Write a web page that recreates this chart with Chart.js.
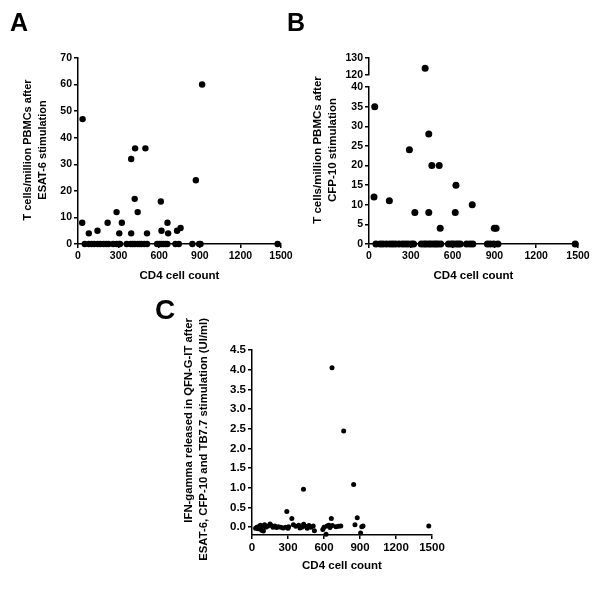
<!DOCTYPE html>
<html><head><meta charset="utf-8">
<script src="https://cdn.jsdelivr.net/npm/chart.js@4.4.1/dist/chart.umd.min.js"></script>
<style>
html,body{margin:0;padding:0;background:#fff;}
#wrap{position:relative;width:600px;height:594px;background:#fff;overflow:hidden;font-family:'Liberation Sans',Arial,sans-serif;}
canvas{position:absolute;}
.lbl{position:absolute;font-weight:bold;color:#000;font-family:'Liberation Sans',Arial,sans-serif;}
</style></head><body>
<div id="wrap">
<canvas id="cA" width="300" height="300" style="left:0;top:0"></canvas>
<canvas id="cB" width="300" height="300" style="left:300px;top:0"></canvas>
<canvas id="cC" width="300" height="300" style="left:150px;top:290px"></canvas>
<div class="lbl" style="left:10px;top:10px;font-size:25px;line-height:25px">A</div>
<div class="lbl" style="left:287px;top:10px;font-size:25px;line-height:25px">B</div>
<div class="lbl" style="left:155px;top:296px;font-size:28px;line-height:28px">C</div>
</div>
<script>
// ---------- data ----------
const cd4Ticks = [0, 300, 600, 900, 1200, 1500];

// Panel A: ESAT-6
const esatCD4 = [31, 34, 80, 144, 219, 285, 305, 324, 393, 393, 422, 419, 441, 498, 510, 612, 617, 661, 666, 732, 758, 871, 917,
  50, 80, 100, 120, 145, 165, 190, 210, 225, 260, 285, 300, 310, 360, 390, 405, 420, 440, 455, 470, 490, 510, 585, 600, 615, 630, 645, 660, 720, 745, 845, 895, 905, 1475];
const esatVal = [8, 47, 4, 5, 8, 12, 4, 8, 32, 4, 36, 17, 12, 36, 4, 16, 5, 8, 4, 5, 6, 24, 60,
  0, 0, 0, 0, 0, 0, 0, 0, 0, 0, 0, 0, 0, 0, 0, 0, 0, 0, 0, 0, 0, 0, 0, 0, 0, 0, 0, 0, 0, 0, 0, 0, 0, 0];
const esatTicks = [0, 10, 20, 30, 40, 50, 60, 70];

// Panel B: CFP-10 (broken axis)
const cfpCD4 = [36, 41, 146, 290, 329, 403, 429, 429, 451, 504, 511, 619, 624, 741, 899, 912,
  50, 80, 100, 125, 150, 170, 190, 215, 240, 260, 280, 305, 320, 375, 395, 410, 430, 445, 465, 480, 495, 515, 570, 590, 605, 625, 640, 655, 700, 725, 745, 850, 870, 895, 925, 1480];
const cfpVal = [12, 35, 11, 24, 8, 124, 28, 8, 20, 20, 4, 8, 15, 10, 4, 4,
  0, 0, 0, 0, 0, 0, 0, 0, 0, 0, 0, 0, 0, 0, 0, 0, 0, 0, 0, 0, 0, 0, 0, 0, 0, 0, 0, 0, 0, 0, 0, 0, 0, 0, 0, 0];
const cfpLowerTicks = [0, 5, 10, 15, 20, 25, 30, 35, 40];
const cfpUpperTicks = [120, 130];

// Panel C: QFN-G-IT
const qfnCD4 = [290, 332, 429, 617, 661, 667, 764, 847, 858, 877, 905, 915, 925, 1473,
  30, 40, 50, 60, 70, 80, 90, 95, 105, 115, 130, 150, 160, 175, 190, 205, 220, 240, 260, 280, 300, 305,
  345, 365, 390, 400, 415, 430, 445, 460, 475, 490, 510, 520, 590, 600, 625, 640, 650, 670, 700, 720, 740];
const qfnVal = [0.40, 0.22, 0.96, -0.18, 0.22, 4.05, 2.44, 1.08, 0.06, 0.24, -0.15, 0.01, 0.03, 0.03,
  -0.03, 0.00, -0.04, 0.02, 0.05, -0.08, 0.03, -0.10, 0.06, 0.00, 0.02, 0.08, 0.04, 0.00, 0.03, -0.01, 0.01, 0.00, -0.02, 0.00, -0.03, 0.01,
  0.06, 0.02, 0.05, -0.02, 0.00, 0.07, 0.02, -0.03, 0.04, 0.00, 0.03, -0.09, -0.06, 0.00, 0.03, 0.05, -0.01, 0.04, 0.01, 0.02, 0.03];
const qfnTicks = [0, 0.5, 1.0, 1.5, 2.0, 2.5, 3.0, 3.5, 4.0, 4.5];

// ---------- helpers ----------
const FONT = "'Liberation Sans', Arial, sans-serif";
Chart.defaults.font.family = FONT;
Chart.defaults.font.weight = 'bold';
Chart.defaults.color = '#000';

function zip(xs, ys) { return xs.map((x, i) => ({x: x, y: ys[i]})); }

const yTitlePlugin = {
  id: 'yTitle',
  afterDraw(chart, args, o) {
    const ctx = chart.ctx;
    ctx.save();
    ctx.font = 'bold ' + o.size + 'px ' + FONT;
    ctx.fillStyle = '#000';
    ctx.textBaseline = 'middle';
    ctx.textAlign = o.align;
    o.lines.forEach((line, i) => {
      ctx.save();
      ctx.translate(o.xs[i], o.y);
      ctx.rotate(-Math.PI / 2);
      ctx.fillText(line, 0, 0);
      ctx.restore();
    });
    ctx.restore();
  }
};

function xAxis(tickSize, height) {
  return {
    type: 'linear', position: 'bottom', min: 0, max: 1500,
    afterBuildTicks: s => { s.ticks = cd4Ticks.map(v => ({value: v})); },
    border: {display: true, color: '#000', width: 1.5},
    grid: {drawOnChartArea: false, drawTicks: true, tickLength: 4, color: '#000', lineWidth: 1.5, tickWidth: 1.5},
    ticks: {font: {size: tickSize, weight: 'bold'}, color: '#000', padding: 2, maxRotation: 0, autoSkip: false, callback: v => String(v)},
    title: {display: true, text: 'CD4 cell count', font: {size: 11.5, weight: 'bold'}, color: '#000', padding: {top: 0, bottom: 17}},
    afterFit: s => { s.height = height; }
  };
}

function yAxis(min, max, ticks, width, tickSize, fmt, extra) {
  return Object.assign({
    type: 'linear', position: 'left', min: min, max: max,
    afterBuildTicks: s => { s.ticks = ticks.map(v => ({value: v})); },
    border: {display: true, color: '#000', width: 1.5},
    grid: {drawOnChartArea: false, drawTicks: true, tickLength: 4, color: '#000', lineWidth: 1.5, tickWidth: 1.5},
    ticks: {font: {size: tickSize, weight: 'bold'}, color: '#000', padding: 2, autoSkip: false, callback: fmt},
    afterFit: s => { s.width = width; }
  }, extra || {});
}

function baseOptions(padding, scales, title) {
  return {
    responsive: false, animation: false, devicePixelRatio: 1,
    layout: {padding: padding},
    scales: scales,
    plugins: {legend: {display: false}, tooltip: {enabled: false}, yTitle: title}
  };
}

function pointDS(data, r, axisId) {
  const ds = {data: data, backgroundColor: '#000', borderWidth: 0, pointRadius: r, pointHoverRadius: r, clip: false};
  if (axisId) ds.yAxisID = axisId;
  return ds;
}

// ---------- Panel A ----------
new Chart(document.getElementById('cA'), {
  type: 'scatter',
  data: {datasets: [pointDS(zip(esatCD4, esatVal), 3.2)]},
  options: baseOptions({left: 0, top: 58, right: 19, bottom: 0}, {
    x: xAxis(10.5, 56),
    y: yAxis(0, 70, esatTicks, 78, 10.5, v => String(v))
  }, {lines: ['T cells/million PBMCs after', 'ESAT-6 stimulation'], xs: [28, 43], y: 150, align: 'center', size: 11}),
  plugins: [yTitlePlugin]
});

// ---------- Panel B ----------
const cfpAll = zip(cfpCD4, cfpVal);
const cfpLow = cfpAll.filter(p => p.y <= 40);
const cfpHigh = cfpAll.filter(p => p.y > 40);
new Chart(document.getElementById('cB'), {
  type: 'scatter',
  data: {datasets: [pointDS(cfpLow, 3.5, 'y'), pointDS(cfpHigh, 3.5, 'y2')]},
  options: baseOptions({left: 0, top: 58, right: 22, bottom: 0}, {
    x: xAxis(10.5, 56),
    y: yAxis(0, 40, cfpLowerTicks, 69, 10.5, v => String(v), {stack: 'brk', stackWeight: 157, weight: 0}),
    yGap: {type: 'linear', position: 'left', min: 0, max: 1, stack: 'brk', stackWeight: 12, weight: 1,
      border: {display: false}, grid: {display: false}, ticks: {display: false},
      afterFit: s => { s.width = 69; }},
    y2: yAxis(120, 130, cfpUpperTicks, 69, 10.5, v => String(v), {stack: 'brk', stackWeight: 17, weight: 2})
  }, {lines: ['T cells/million PBMCs after', 'CFP-10 stimulation'], xs: [18, 33], y: 150, align: 'center', size: 11.5}),
  plugins: [yTitlePlugin]
});

// ---------- Panel C ----------
new Chart(document.getElementById('cC'), {
  type: 'scatter',
  data: {datasets: [pointDS(zip(qfnCD4, qfnVal), 2.5)]},
  options: baseOptions({left: 0, top: 60, right: 18, bottom: 0}, {
    x: xAxis(11.5, 55),
    y: yAxis(-0.2, 4.5, qfnTicks, 102, 11.5, v => Number(v).toFixed(1))
  }, {lines: ['IFN-gamma released in QFN-G-IT after', 'ESAT-6, CFP-10 and TB7.7 stimulation (UI/ml)'], xs: [39, 54], y: 28, align: 'right', size: 11.3}),
  plugins: [yTitlePlugin]
});
</script>
</body></html>
